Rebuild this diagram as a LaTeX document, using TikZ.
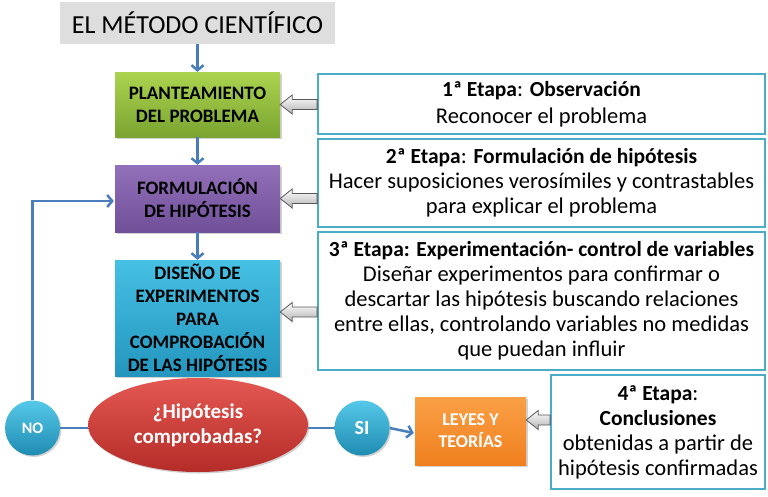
\documentclass[tikz,border=0pt]{standalone}
\usepackage{fontspec}
\setmainfont{Carlito}
\usetikzlibrary{shapes.geometric,arrows.meta,shadows,calc,backgrounds}
\definecolor{conncol}{HTML}{4A7EBB}
\definecolor{stagecol}{HTML}{4BACC6}
\definecolor{titlegray}{HTML}{DEDEDE}
\newcommand\hollowarrow[2]{%
  \path[harrow] let \p1=#1, \p2=#2 in
    (\x1,\y2+5pt) -- (\x2+12pt,\y2+5pt) -- (\x2+12pt,\y2+9.5pt) -- (\x2,\y2)
    -- (\x2+12pt,\y2-9.5pt) -- (\x2+12pt,\y2-5pt) -- (\x1,\y2-5pt) -- cycle;}
\newcommand\bt[1]{{\fontsize{21.5}{25}\selectfont\bfseries #1}}
\tikzset{
  shad/.style={drop shadow={shadow xshift=1.5pt,shadow yshift=-1.5pt,opacity=0.35}},
  lbox/.style={shad,align=center,inner sep=0pt,font=\bfseries\fontsize{19}{23}\selectfont,minimum width=165pt},
  stage/.style={draw=stagecol,line width=1.8pt,fill=white,align=center,inner sep=0pt,font=\fontsize{22.5}{25}\selectfont},
  conn/.style={draw=conncol,line width=2.5pt,-{Straight Barb[length=5pt,width=12pt]}},
  plain/.style={draw=conncol,line width=2.5pt},
  harrow/.style={draw=black!65,line width=0.8pt,top color=white,bottom color=black!30},
  circ/.style={circle,shad,minimum size=55pt,inner sep=0pt,top color={rgb,255:red,86;green,200;blue,232},bottom color={rgb,255:red,30;green,140;blue,178},text=white,font=\bfseries},
}
\begin{document}
\begin{tikzpicture}[x=1pt,y=-1pt]
\useasboundingbox (0,0) rectangle (768,496);

\node[fill=titlegray,minimum width=275pt,minimum height=42pt,inner sep=0pt,font=\fontsize{26}{30}\selectfont] (t) at (197.5,23) {EL MÉTODO CIENTÍFICO};

\node[lbox,minimum height=65pt,top color={rgb,255:red,172;green,212;blue,80},bottom color={rgb,255:red,122;green,164;blue,48}] (g) at (197.5,104.5) {PLANTEAMIENTO\\DEL PROBLEMA};
\node[lbox,minimum height=67pt,top color={rgb,255:red,146;green,112;blue,186},bottom color={rgb,255:red,112;green,80;blue,152}] (p) at (197.5,198.5) {FORMULACIÓN\\DE HIPÓTESIS};
\node[lbox,minimum height=116pt,top color={rgb,255:red,70;green,192;blue,228},bottom color={rgb,255:red,36;green,150;blue,190}] (c) at (197.5,318) {DISEÑO DE\\EXPERIMENTOS\\PARA\\COMPROBACIÓN\\DE LAS HIPÓTESIS};

\node[ellipse,shad,minimum width=220pt,minimum height=94pt,inner sep=0pt,align=center,text=white,font=\bfseries\fontsize{21}{25}\selectfont,top color={rgb,255:red,228;green,88;blue,82},bottom color={rgb,255:red,180;green,44;blue,40}] (e) at (198,425) {¿Hipótesis\\comprobadas?};

\node[circ,font=\bfseries\fontsize{16}{18}\selectfont] (n) at (32.5,428) {NO};
\node[circ,font=\bfseries\fontsize{20}{22}\selectfont] (si) at (362,428) {SI};

\node[shad,minimum width=111pt,minimum height=68pt,inner sep=0pt,align=center,text=white,font=\bfseries\fontsize{18}{22}\selectfont,top color={rgb,255:red,250;green,160;blue,70},bottom color={rgb,255:red,240;green,128;blue,30}] (l) at (470.5,431) {LEYES Y\\TEORÍAS};

\node[stage,minimum width=447pt,minimum height=60pt,font=\fontsize{22.5}{27}\selectfont] (s1) at (541.5,104) {\bt{1ª Etapa}: \bt{Observación}\\Reconocer el problema};
\node[stage,minimum width=447pt,minimum height=88pt] (s2) at (541.5,183) {\bt{2ª Etapa}: \bt{Formulación de hipótesis}\\Hacer suposiciones verosímiles y contrastables\\para explicar el problema};
\node[stage,minimum width=447pt,minimum height=138pt] (s3) at (541.5,301) {\bt{3ª Etapa: Experimentación- control de variables}\\Diseñar experimentos para confirmar o\\descartar las hipótesis buscando relaciones\\entre ellas, controlando variables no medidas\\que puedan influir};
\node[stage,minimum width=214pt,minimum height=114pt] (s4) at (658,432) {\bt{4ª Etapa}:\\\bt{Conclusiones}\\obtenidas a partir de\\hipótesis confirmadas};

\draw[conn] (t.south) -- (g.north);
\draw[conn] (g.south) -- (p.north);
\draw[conn] (p.south) -- (c.north);
\draw[conn] (n.north) |- ([yshift=-2.5pt,xshift=-1pt]p.west);
\begin{scope}[on background layer]
\fill[white] (0,0) rectangle (768,496);
\draw[plain] (n.east) -- (e.west |- n.east);
\draw[plain] (e.east |- si.west) -- (si.west);
\end{scope}
\draw[conn] (si.east) -- ([yshift=-2pt,xshift=-1pt]l.west);

\hollowarrow{(s1.west)}{(g.east)}
\hollowarrow{(s2.west)}{(p.east)}
\hollowarrow{(s3.west)}{($(c.east)+(0,-6)$)}
\hollowarrow{(s4.west)}{($(l.east)+(0,-11)$)}
\end{tikzpicture}
\end{document}
